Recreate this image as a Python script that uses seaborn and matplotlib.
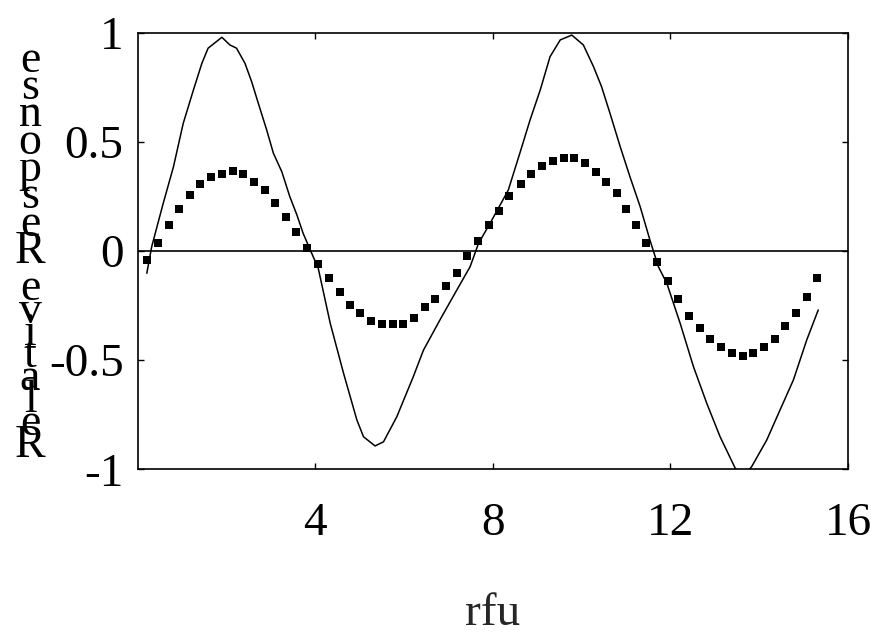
import matplotlib
matplotlib.use("Agg")
import matplotlib.pyplot as plt
import seaborn as sns

# Sampled response (square markers)
sample_x = [0.21, 0.46, 0.70, 0.94, 1.18, 1.41, 1.66, 1.90, 2.14, 2.38,
            2.62, 2.86, 3.10, 3.34, 3.58, 3.82, 4.07, 4.31, 4.55, 4.79,
            5.02, 5.26, 5.51, 5.75, 5.99, 6.23, 6.47, 6.71, 6.95, 7.19,
            7.43, 7.67, 7.92, 8.15, 8.37, 8.63, 8.87, 9.12, 9.36, 9.60,
            9.84, 10.07, 10.32, 10.56, 10.79, 11.00, 11.22, 11.46, 11.70, 11.94,
            12.18, 12.42, 12.66, 12.90, 13.14, 13.39, 13.63, 13.87, 14.11, 14.35,
            14.59, 14.83, 15.07, 15.31]
sample_y = [-0.039, 0.035, 0.120, 0.194, 0.255, 0.305, 0.341, 0.353, 0.365, 0.353,
            0.315, 0.278, 0.219, 0.157, 0.086, 0.015, -0.061, -0.125, -0.186, -0.247,
            -0.283, -0.321, -0.333, -0.333, -0.333, -0.308, -0.257, -0.222, -0.161, -0.100,
            -0.024, 0.046, 0.118, 0.181, 0.253, 0.305, 0.354, 0.390, 0.414, 0.426,
            0.426, 0.402, 0.364, 0.315, 0.267, 0.192, 0.120, 0.035, -0.051, -0.136,
            -0.221, -0.296, -0.355, -0.401, -0.441, -0.467, -0.480, -0.467, -0.441, -0.404,
            -0.344, -0.283, -0.211, -0.124]

# Model curve (solid line)
curve_x = [0.21, 0.32, 0.58, 0.81, 1.03, 1.26, 1.45, 1.59, 1.90, 2.08,
           2.23, 2.42, 2.57, 2.72, 2.91, 3.06, 3.25, 3.43, 3.59, 3.73,
           3.89, 4.07, 4.34, 4.64, 4.94, 5.09, 5.35, 5.54, 5.84, 6.21,
           6.44, 6.81, 7.19, 7.49, 7.68, 7.94, 8.35, 8.61, 8.84, 9.07,
           9.29, 9.52, 9.78, 10.04, 10.27, 10.45, 10.64, 10.87, 11.09, 11.32,
           11.54, 11.73, 11.92, 12.22, 12.52, 12.82, 13.12, 13.46, 13.65, 13.83,
           14.17, 14.47, 14.77, 15.07, 15.33]
curve_y = [-0.102, 0.020, 0.219, 0.386, 0.585, 0.738, 0.860, 0.929, 0.979, 0.944,
           0.929, 0.860, 0.776, 0.677, 0.554, 0.448, 0.363, 0.249, 0.165, 0.081,
           0.005, -0.079, -0.331, -0.560, -0.774, -0.851, -0.893, -0.874, -0.759, -0.576,
           -0.454, -0.316, -0.179, -0.072, 0.035, 0.127, 0.279, 0.448, 0.600, 0.738,
           0.890, 0.967, 0.989, 0.944, 0.844, 0.753, 0.631, 0.478, 0.340, 0.203,
           0.050, -0.072, -0.148, -0.331, -0.530, -0.698, -0.851, -0.995, -1.030, -0.988,
           -0.866, -0.728, -0.591, -0.408, -0.270]

x_ticks = [4, 8, 12, 16]
x_tick_labels = ["4", "8", "12", "16"]
y_ticks = [-1, -0.5, 0, 0.5, 1]
y_tick_labels = ["-1", "-0.5", "0", "0.5", "1"]
x_label = "rfu"
y_label_words = ["Relative", "Response"]

sns.set_style("ticks")
plt.rcParams["font.family"] = ["Liberation Serif", "DejaVu Serif"]
plt.rcParams["axes.unicode_minus"] = False

W, H = 871, 643
fig = plt.figure(figsize=(W / 100, H / 100), dpi=100)
ax = fig.add_axes([137.5 / W, 1 - 469.3 / H, (848 - 137.5) / W, (469.3 - 32.7) / H])

ax.axhline(0, color="black", lw=1.2, zorder=1)
sns.lineplot(x=curve_x, y=curve_y, sort=False, estimator=None,
             color="black", lw=1.1, ax=ax, zorder=2)
sns.scatterplot(x=sample_x, y=sample_y, marker="s", s=38, color="black",
                edgecolor="black", linewidth=0, ax=ax, zorder=3)

ax.set_xlim(0, 16)
ax.set_ylim(-1, 1)
ax.set_xticks(x_ticks)
ax.set_xticklabels(x_tick_labels)
ax.set_yticks(y_ticks)
ax.set_yticklabels(y_tick_labels)

for side in ax.spines.values():
    side.set_linewidth(1.2)
    side.set_color("black")

ax.tick_params(axis="both", which="major", direction="in", length=4, width=1,
               top=True, right=True, labelsize=34, colors="black")
ax.tick_params(axis="x", pad=24)
ax.tick_params(axis="y", pad=10)

ax.set_xlabel(x_label, fontsize=34, labelpad=34)
ax.set_ylabel("")

# Upright letters stacked bottom-to-top for the vertical axis title
word_bases = [457, 263]      # baseline of the first letter of each word (px from top)
word_pitch = [22.4, 27.3]    # vertical step between letters (px)
for word, base, pitch in zip(y_label_words, word_bases, word_pitch):
    for i, ch in enumerate(word):
        fig.text(30 / W, 1 - (base - i * pitch) / H, ch, fontsize=33,
                 ha="center", va="baseline", color="black")

fig.savefig("out.png", dpi=100, facecolor="white")
